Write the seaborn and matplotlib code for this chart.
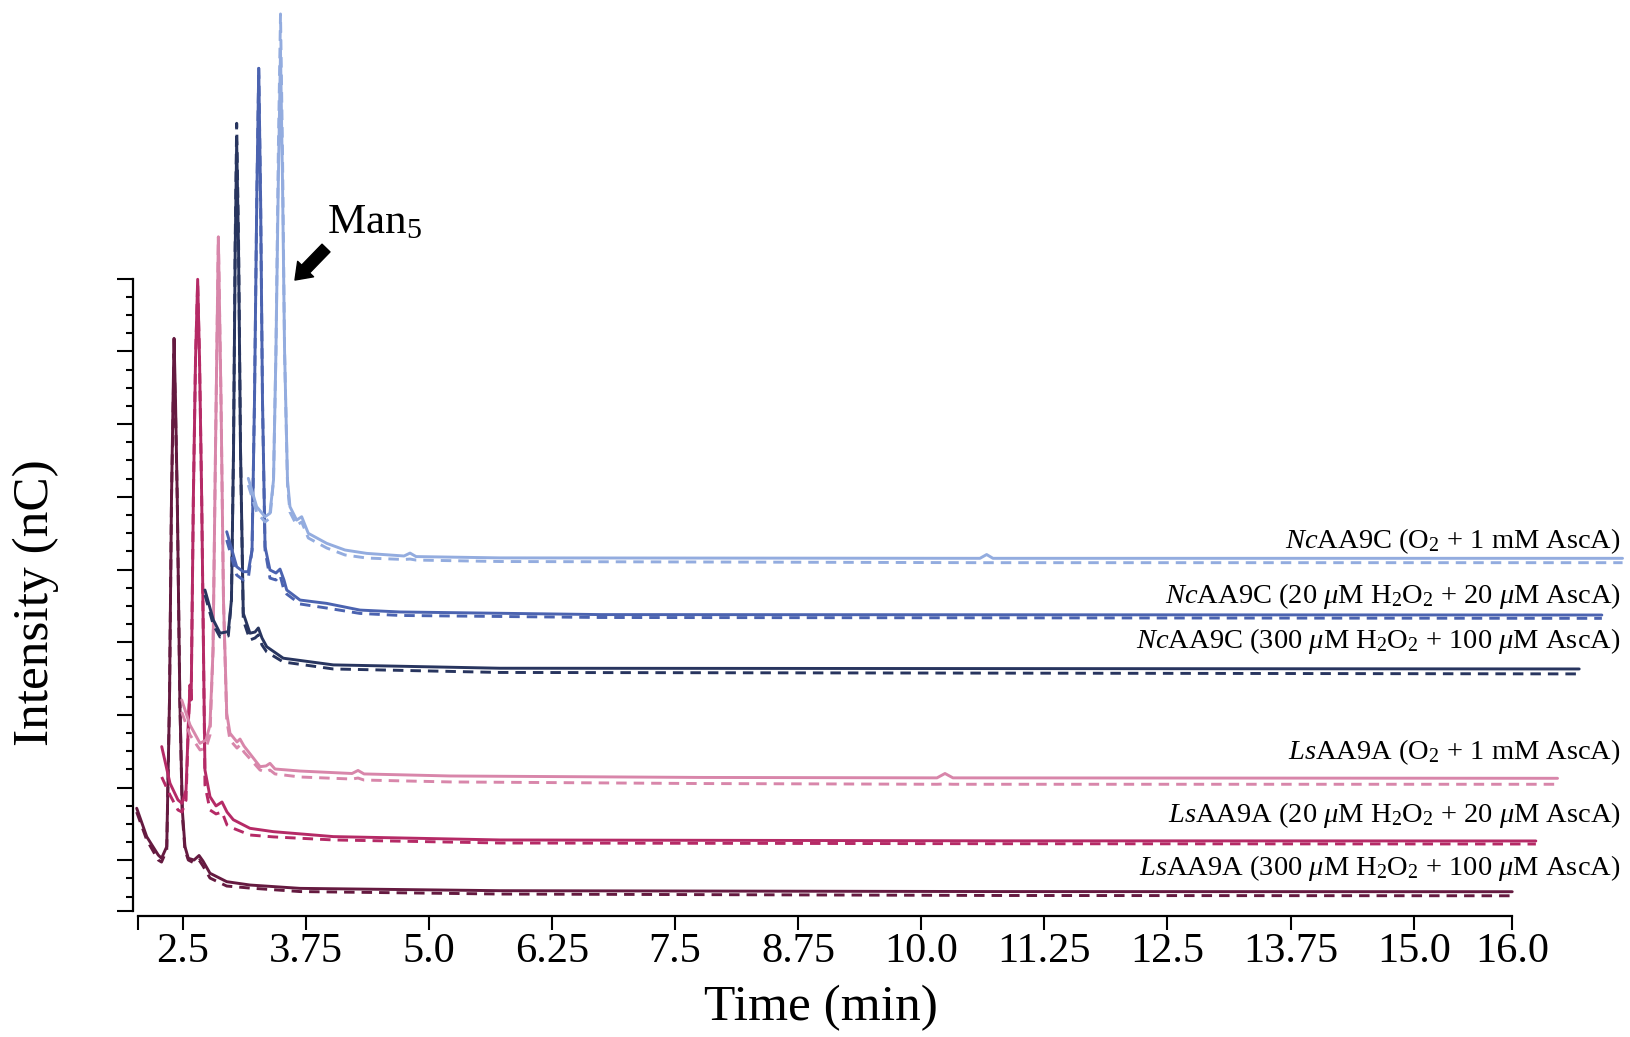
import numpy as np
import matplotlib
matplotlib.use("Agg")
import matplotlib.pyplot as plt
import seaborn as sns

# ---- data (time in min, intensity in nC relative to each trace baseline) ----
names = [
    r"$\mathit{Ls}$AA9A (300 $\mu$M H$_2$O$_2$ + 100 $\mu$M AscA)",
    r"$\mathit{Ls}$AA9A (20 $\mu$M H$_2$O$_2$ + 20 $\mu$M AscA)",
    r"$\mathit{Ls}$AA9A (O$_2$ + 1 mM AscA)",
    r"$\mathit{Nc}$AA9C (300 $\mu$M H$_2$O$_2$ + 100 $\mu$M AscA)",
    r"$\mathit{Nc}$AA9C (20 $\mu$M H$_2$O$_2$ + 20 $\mu$M AscA)",
    r"$\mathit{Nc}$AA9C (O$_2$ + 1 mM AscA)",
]
colors = ["#651a40", "#b52a66", "#d886aa", "#28355f", "#4b63b0", "#93acdf"]

# stacking offsets of the chromatograms
x_off = [0.0, 0.24, 0.46, 0.68, 0.91, 1.12]
y_off = [0.0, 34.9, 78.0, 153.2, 190.3, 229.3]

ls300_t = [2.035, 2.137, 2.254, 2.287, 2.340, 2.368, 2.388, 2.404, 2.414, 2.429, 2.447,
           2.473, 2.498, 2.525, 2.559, 2.617, 2.668, 2.708, 2.779, 2.949, 3.185, 3.693,
           5.723, 10.80, 16.0]
ls300_solid = [57.4, 37.8, 25.2, 23.0, 31.0, 131.9, 269.4, 338.2, 380.6, 338.2, 269.4,
               131.9, 56.2, 31.0, 23.0, 21.8, 24.9, 21.1, 12.7, 6.9, 4.6, 2.3, 0.7, 0.1, 0.0]
ls300_dash = [54.8, 35.6, 21.8, 20.4, 28.7, 131.9, 269.4, 330.0, 370.0, 330.0, 269.4,
              131.9, 53.0, 28.7, 21.8, 19.8, 21.8, 17.7, 9.4, 3.9, 2.5, 0.1, -1.6, -2.6, -2.8]

ls20_t = [2.049, 2.133, 2.214, 2.255, 2.296, 2.321, 2.336, 2.348, 2.370, 2.392, 2.414,
          2.433, 2.455, 2.473, 2.488, 2.539, 2.600, 2.661, 2.712, 2.776, 2.945, 3.182,
          3.791, 5.483, 10.56, 16.0]
ls20_solid = [64.9, 39.7, 28.2, 25.9, 35.1, 83.2, 107.3, 97.0, 234.5, 330.8, 386.3,
              330.8, 234.5, 131.4, 48.8, 30.5, 24.1, 26.8, 19.9, 14.6, 8.7, 6.4, 3.0,
              0.7, 0.1, 0.0]
ls20_dash = [44.0, 31.6, 21.3, 19.9, 28.2, 83.2, 104.0, 97.0, 234.5, 330.8, 384.0,
             330.8, 234.5, 131.4, 38.5, 21.3, 18.6, 19.9, 11.0, 8.7, 4.1, 2.8, 0.7,
             -1.4, -1.9, -2.1]

lso2_t = [2.032, 2.116, 2.218, 2.279, 2.319, 2.350, 2.375, 2.404, 2.431, 2.456, 2.489,
          2.522, 2.593, 2.624, 2.664, 2.827, 2.888, 2.928, 2.979, 3.233, 3.761, 3.822,
          3.883, 4.756, 7.294, 9.700, 9.781, 9.862, 16.0]
lso2_solid = [53.9, 36.7, 24.1, 26.3, 36.7, 88.2, 225.8, 372.3, 260.2, 122.6, 44.7,
              31.0, 25.0, 27.0, 22.2, 8.0, 8.5, 10.3, 6.4, 5.0, 3.3, 5.4, 3.0, 1.6,
              0.6, 0.3, 3.3, 0.3, 0.0]
lso2_dash = [45.6, 29.8, 19.5, 20.8, 29.8, 88.2, 225.8, 372.3, 260.2, 122.6, 40.2,
             26.3, 20.8, 22.9, 18.1, 5.7, 4.3, 5.7, 3.0, 0.9, -0.5, 0.2, -1.2, -2.5,
             -3.6, -4.1, -3.9, -4.1, -4.1]

nc300_t = [2.048, 2.133, 2.201, 2.285, 2.317, 2.338, 2.355, 2.370, 2.389, 2.409, 2.437,
           2.505, 2.556, 2.590, 2.627, 2.675, 2.843, 3.351, 5.043, 16.0]
nc300_solid = [54.3, 33.7, 24.6, 25.7, 47.5, 150.6, 288.2, 362.7, 288.2, 150.6, 38.3,
               24.6, 25.4, 28.2, 21.3, 15.3, 7.4, 2.8, 0.5, 0.0]
nc300_dash = [50.9, 30.3, 22.0, 22.7, 47.5, 150.6, 295.1, 375.3, 295.1, 150.6, 33.7,
              19.9, 21.3, 23.4, 16.5, 11.7, 4.8, 0.0, -2.4, -3.4]

nc20_t = [2.039, 2.140, 2.207, 2.258, 2.296, 2.321, 2.344, 2.364, 2.383, 2.402, 2.428,
          2.478, 2.539, 2.580, 2.620, 2.648, 2.783, 3.054, 3.392, 3.798, 5.829, 16.0]
nc20_solid = [57.3, 33.2, 29.8, 29.8, 44.7, 147.9, 285.4, 376.0, 285.4, 147.9, 47.0,
              31.0, 28.9, 31.6, 24.1, 17.2, 10.3, 8.0, 3.4, 2.1, 0.3, 0.0]
nc20_dash = [51.6, 27.5, 24.1, 25.4, 44.7, 147.9, 285.4, 376.0, 285.4, 147.9, 44.7,
             25.4, 24.1, 27.5, 17.2, 14.4, 7.6, 4.8, 1.1, -0.3, -1.7, -2.3]

nco2_t = [2.048, 2.133, 2.218, 2.268, 2.304, 2.329, 2.353, 2.375, 2.395, 2.416, 2.446,
          2.471, 2.539, 2.590, 2.657, 2.844, 3.030, 3.250, 3.629, 3.690, 3.751, 4.603,
          9.476, 9.544, 9.608, 16.0]
nco2_solid = [55.0, 35.5, 28.6, 31.0, 53.9, 143.3, 260.2, 349.6, 260.2, 143.3, 53.9,
              35.5, 26.3, 28.6, 17.2, 10.3, 5.7, 3.4, 1.6, 3.6, 1.2, 0.3, 0.0, 2.6,
              0.0, 0.0]
nco2_dash = [50.4, 31.8, 25.0, 27.7, 53.9, 143.3, 280.8, 374.4, 280.8, 143.3, 50.4,
             31.8, 22.7, 25.0, 14.0, 7.1, 2.3, 0.2, -0.8, -0.5, -1.2, -2.2, -3.0,
             -3.0, -3.0, -3.0]

times = [ls300_t, ls20_t, lso2_t, nc300_t, nc20_t, nco2_t]
solids = [ls300_solid, ls20_solid, lso2_solid, nc300_solid, nc20_solid, nco2_solid]
dashes = [ls300_dash, ls20_dash, lso2_dash, nc300_dash, nc20_dash, nco2_dash]

xtick_vals = [2.5, 3.75, 5.0, 6.25, 7.5, 8.75, 10.0, 11.25, 12.5, 13.75, 15.0, 16.0]
xtick_labels = ["2.5", "3.75", "5.0", "6.25", "7.5", "8.75", "10.0", "11.25",
                "12.5", "13.75", "15.0", "16.0"]

# ---- style ----
sns.set_theme(style="ticks")
plt.rcParams["font.family"] = ["Liberation Serif", "DejaVu Serif"]
plt.rcParams["mathtext.fontset"] = "custom"
plt.rcParams["mathtext.rm"] = "Liberation Serif"
plt.rcParams["mathtext.it"] = "Liberation Serif:italic"
plt.rcParams["mathtext.bf"] = "Liberation Serif:bold"
plt.rcParams["text.color"] = "black"
plt.rcParams["axes.labelcolor"] = "black"

fig = plt.figure(figsize=(16.3, 10.37), dpi=100)
ax = fig.add_axes([0.08175, 0.11697, 0.91791, 0.88303])

lw = 2.1
label_pad = [11.5, 13.3, 13.1, 14.2, 8.5, 6.9]
for i in range(len(names)):
    t = np.array(times[i]) + x_off[i]
    sns.lineplot(x=t, y=np.array(solids[i]) + y_off[i], ax=ax, color=colors[i],
                 lw=lw, estimator=None, sort=False)
    sns.lineplot(x=t, y=np.array(dashes[i]) + y_off[i], ax=ax, color=colors[i],
                 lw=lw, linestyle=(0, (3.6, 2.4)), estimator=None, sort=False)
    ax.text(17.10, y_off[i] + label_pad[i], names[i], ha="right", va="baseline",
            fontsize=20.5, color="black")

# Man5 annotation
ax.text(3.967, 452.8, r"Man$_5$", fontsize=31, ha="left", va="baseline", color="black")
ax.annotate("", xy=(3.642, 420.7), xytext=(3.957, 442.7),
            arrowprops=dict(arrowstyle="simple,head_length=0.55,head_width=0.8,tail_width=0.4",
                            fc="black", ec="black", mutation_scale=20,
                            shrinkA=0, shrinkB=0))

ax.set_xlim(2.0, 17.19)
ax.set_ylim(-16.5, 613.3)

sns.despine(ax=ax)
ax.spines["bottom"].set_bounds(2.045, 16.0)
ax.spines["left"].set_bounds(-13.1, 421.6)
for s in ["bottom", "left"]:
    ax.spines[s].set_linewidth(1.6)
    ax.spines[s].set_color("black")

ax.set_xticks([2.045] + xtick_vals)
ax.set_xticklabels([""] + xtick_labels)
ax.tick_params(axis="x", which="major", length=10, width=1.5, pad=2,
               labelsize=30.5, colors="black")

ymaj = [-13.1] + list(np.arange(21.6, 422, 50))
ymin = [v for v in np.arange(421.6, -5, -12.5)]
ax.set_yticks(ymaj)
ax.set_yticks(ymin, minor=True)
ax.set_yticklabels([])
ax.tick_params(axis="y", which="major", length=11.5, width=1.5, colors="black")
ax.tick_params(axis="y", which="minor", length=5, width=1.5, colors="black")
ax.set_xlabel("")
ax.set_ylabel("")

fig.text(821 / 1630, 1 - 1008 / 1037, "Time (min)", ha="center", va="center",
         fontsize=37, color="black")
fig.text(36 / 1630, 1 - 603 / 1037, "Intensity (nC)", ha="center", va="center",
         fontsize=37, rotation=90, color="black")

fig.savefig("out.png", dpi=100)
